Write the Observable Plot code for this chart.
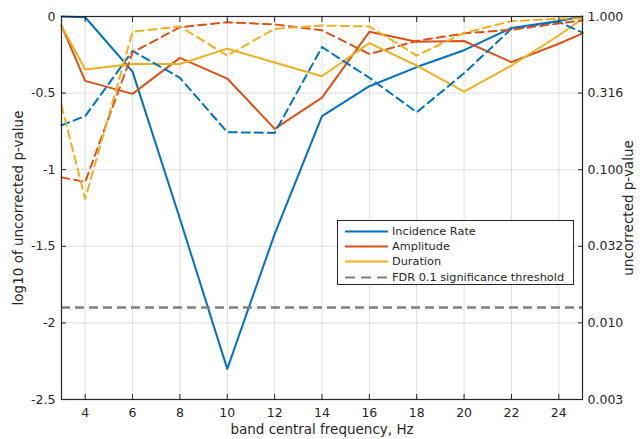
<!DOCTYPE html>
<html>
<head>
<meta charset="utf-8">
<script src="https://cdn.jsdelivr.net/npm/d3@7"></script>
<script src="https://cdn.jsdelivr.net/npm/@observablehq/plot@0.6"></script>
<style>
  html, body { margin: 0; padding: 0; background: white; }
  #wrap { position: relative; width: 644px; height: 439px; font-family: "DejaVu Sans", sans-serif; }
  #legend { position: absolute; left: 337px; top: 220px; width: 237px; height: 65px;
            border: 1px solid #262626; background: white; box-sizing: border-box; }
  #legend .row { position: absolute; left: 0; height: 15px; display: flex; align-items: center; }
  #legend .row span { font-size: 11.3px; color: #262626; white-space: nowrap; margin-left: 3px; }
</style>
</head>
<body>
<div id="wrap"><div id="legend"></div></div>
<script>
// ---- data ----
const freqs = [3, 4, 6, 8, 10, 12, 14, 16, 18, 20, 22, 24, 25];

const incidenceSolid  = [0, -0.005, -0.36, -1.32, -2.3, -1.42, -0.65, -0.455, -0.33, -0.22, -0.075, -0.03, 0];
const incidenceDashed = [-0.71, -0.65, -0.225, -0.40, -0.755, -0.76, -0.20, -0.40, -0.625, -0.37, -0.08, -0.035, -0.105];
const amplitudeSolid  = [-0.06, -0.42, -0.505, -0.27, -0.405, -0.733, -0.53, -0.10, -0.165, -0.16, -0.298, -0.178, -0.11];
const amplitudeDashed = [-1.05, -1.08, -0.235, -0.07, -0.037, -0.052, -0.09, -0.245, -0.16, -0.11, -0.087, -0.045, -0.026];
const durationSolid   = [-0.06, -0.346, -0.31, -0.31, -0.21, -0.30, -0.39, -0.174, -0.32, -0.49, -0.32, -0.124, -0.015];
const durationDashed  = [-0.58, -1.19, -0.10, -0.065, -0.255, -0.08, -0.059, -0.065, -0.255, -0.107, -0.03, -0.015, -0.012];

const fdrThreshold = -1.9;

const seriesNames = ["Incidence Rate", "Amplitude", "Duration"];
const seriesColors = ["#0072BD", "#D95319", "#EDB120"];
const thresholdLabel = "FDR 0.1 significance threshold";

const xTicks = [4, 6, 8, 10, 12, 14, 16, 18, 20, 22, 24];
const yTicks = [0, -0.5, -1, -1.5, -2, -2.5];
const yTickLabels = ["0", "-0.5", "-1", "-1.5", "-2", "-2.5"];
const rightTickLabels = ["1.000", "0.316", "0.100", "0.032", "0.010", "0.003"];

const xLabel = "band central frequency, Hz";
const yLabel = "log10 of uncorrected p-value";
const yRightLabel = "uncorrected p-value";

// ---- build ----
const toRows = vals => freqs.map((f, i) => ({f, v: vals[i]}));
const solids = [incidenceSolid, amplitudeSolid, durationSolid];
const dashes = [incidenceDashed, amplitudeDashed, durationDashed];

const axisColor = "#262626";
const fs = 12.5;

const marks = [
  Plot.gridX(xTicks, {stroke: "#dedede", strokeOpacity: 1, strokeWidth: 1}),
  Plot.gridY(yTicks, {stroke: "#dedede", strokeOpacity: 1, strokeWidth: 1}),
  ...solids.map((vals, i) => Plot.line(toRows(vals), {x: "f", y: "v", stroke: seriesColors[i], strokeWidth: 2})),
  ...dashes.map((vals, i) => Plot.line(toRows(vals), {x: "f", y: "v", stroke: seriesColors[i], strokeWidth: 2, strokeDasharray: "8,5"})),
  Plot.ruleY([fdrThreshold], {stroke: "#808080", strokeWidth: 2.5, strokeDasharray: "9,5"}),
  Plot.frame({stroke: axisColor, strokeWidth: 1.2}),
  // inward ticks
  Plot.axisX({anchor: "bottom", ticks: xTicks, tickSize: 5, dy: -5, tickFormat: () => "", label: null, stroke: axisColor}),
  Plot.axisX({anchor: "top", ticks: xTicks, tickSize: 5, dy: 5, tickFormat: () => "", label: null, stroke: axisColor}),
  Plot.axisY({anchor: "left", ticks: yTicks, tickSize: 5, dx: 5, tickFormat: () => "", label: null, stroke: axisColor}),
  Plot.axisY({anchor: "right", ticks: yTicks, tickSize: 5, dx: -5, tickFormat: () => "", label: null, stroke: axisColor}),
  // labels
  Plot.axisX({anchor: "bottom", ticks: xTicks, tickSize: 0, tickPadding: 9, label: null, fill: axisColor, fontSize: fs}),
  Plot.axisY({anchor: "left", ticks: yTicks, tickSize: 0, tickPadding: 6, label: null, fill: axisColor, fontSize: fs,
              tickFormat: d => yTickLabels[yTicks.indexOf(d)]}),
  Plot.axisY({anchor: "right", ticks: yTicks, tickSize: 0, tickPadding: 5, label: null, fill: axisColor, fontSize: fs,
              tickFormat: d => rightTickLabels[yTicks.indexOf(d)]}),
  Plot.text([xLabel], {frameAnchor: "bottom", dy: 30, text: d => d, fontSize: 13.5, fill: axisColor,
                       textAnchor: "middle", lineAnchor: "middle"}),
  Plot.text([yLabel], {frameAnchor: "left", dx: -43, rotate: -90, text: d => d, fontSize: 13.5, fill: axisColor,
                       textAnchor: "middle", lineAnchor: "middle"}),
  Plot.text([yRightLabel], {frameAnchor: "right", dx: 46, rotate: -90, text: d => d, fontSize: 13.5, fill: axisColor,
                            textAnchor: "middle", lineAnchor: "middle"})
];

const chart = Plot.plot({
  width: 644,
  height: 439,
  marginLeft: 61,
  marginRight: 62,
  marginTop: 16,
  marginBottom: 40,
  style: {fontFamily: '"DejaVu Sans", sans-serif', fontSize: fs + "px", color: axisColor, background: "white"},
  x: {domain: [3, 25]},
  y: {domain: [-2.5, 0]},
  marks
});

const wrap = document.getElementById("wrap");
wrap.insertBefore(chart, wrap.firstChild);

// legend
const legend = d3.select("#legend");
const entries = seriesNames.map((n, i) => ({label: n, color: seriesColors[i], dash: null, width: 2}))
  .concat([{label: thresholdLabel, color: "#808080", dash: "10,6", width: 2}]);
entries.forEach((e, i) => {
  const row = legend.append("div").attr("class", "row").style("top", (3 + i * 15.2) + "px").style("left", "7px");
  const svg = row.append("svg").attr("width", 44).attr("height", 15);
  svg.append("line").attr("x1", 0).attr("x2", 43).attr("y1", 7.5).attr("y2", 7.5)
    .attr("stroke", e.color).attr("stroke-width", e.width).attr("stroke-dasharray", e.dash);
  row.append("span").text(e.label);
});
</script>
</body>
</html>
